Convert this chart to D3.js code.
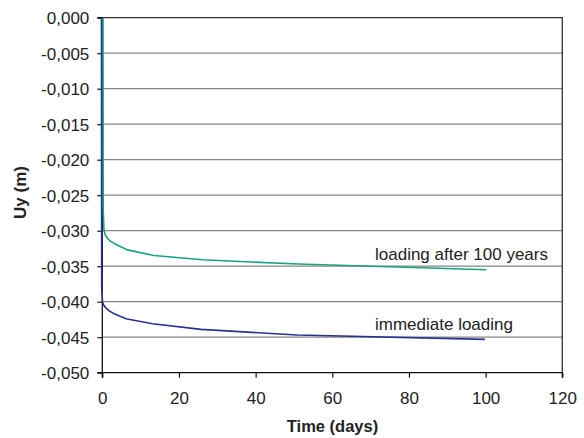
<!DOCTYPE html>
<html><head><meta charset="utf-8">
<script src="https://cdn.jsdelivr.net/npm/d3@7/dist/d3.min.js"></script>
<style>body{margin:0;background:#fff;} text{font-family:"Liberation Sans",Arial,sans-serif;}</style>
</head><body>
<svg id="c" width="584" height="438"></svg>
<script>
const time = [0, 0.05, 0.26, 0.6, 1.2, 2, 3.3, 6.4, 13.3, 26, 51, 100];
const afterLoading = [0, -0.0270, -0.0299, -0.0306, -0.0311, -0.0315, -0.0319, -0.0327, -0.0335, -0.0341, -0.0347, -0.0355];
const immediateLoading = [0, -0.0380, -0.0400, -0.0405, -0.0409, -0.0413, -0.0417, -0.0424, -0.0431, -0.0439, -0.0447, -0.0453];
const xTicks = [0, 20, 40, 60, 80, 100, 120];
const yTicks = [0, -0.005, -0.010, -0.015, -0.020, -0.025, -0.030, -0.035, -0.040, -0.045, -0.050];
const seriesNames = ["loading after 100 years", "immediate loading"];

const svg = d3.select("#c");
const L = 102.3, R = 562.3, T = 17.7, B = 372.7;
const x = d3.scaleLinear().domain([0, 120]).range([L, R]);
const y = d3.scaleLinear().domain([0, -0.05]).range([T, B]);
const FS = 17;

// gridlines
svg.append("g").selectAll("line").data(yTicks.slice(1, -1)).join("line")
  .attr("x1", L).attr("x2", R).attr("y1", d => y(d)).attr("y2", d => y(d))
  .attr("stroke", "#858585").attr("stroke-width", 1.3);
// border top/right
svg.append("path").attr("d", `M${L},${T}H${R}V${B}`).attr("fill", "none")
  .attr("stroke", "#333").attr("stroke-width", 1.3);

const fmt = d => d3.format(".3f")(d).replace(".", ",").replace("−", "-");
const yAxis = svg.append("g").attr("transform", `translate(${L},0)`)
  .call(d3.axisLeft(y).tickValues(yTicks).tickSize(5).tickPadding(8).tickFormat(fmt));
const xAxis = svg.append("g").attr("transform", `translate(0,${B})`)
  .call(d3.axisBottom(x).tickValues(xTicks).tickSize(5).tickPadding(10).tickFormat(d3.format("d")));
[yAxis, xAxis].forEach(a => {
  a.select(".domain").attr("stroke", "#111").attr("stroke-width", 1.3);
  a.selectAll(".tick line").attr("stroke", "#111").attr("stroke-width", 1.2);
  a.selectAll("text").attr("font-size", FS).attr("fill", "#222")
   .style("font-family", "'Liberation Sans', Arial, sans-serif");
});
yAxis.selectAll("text").attr("dy", "0.35em");
xAxis.selectAll("text").attr("dy", null).attr("y", 31.5);
yAxis.select(".domain").attr("d", `M-5,${T}H0V${B}H-5`);
xAxis.select(".domain").attr("d", `M${L},5V0H${R}V5`);

const line = d3.line().x(d => x(d[0])).y(d => y(d[1]));
svg.append("path").datum(time.map((t, i) => [t, immediateLoading[i]]))
  .attr("d", line).attr("fill", "none").attr("stroke", "#2a3192").attr("stroke-width", 1.6)
  .attr("transform", "translate(-0.8,0)");
svg.append("path").datum(time.map((t, i) => [t, afterLoading[i]]))
  .attr("d", line).attr("fill", "none").attr("stroke", "#1aa383").attr("stroke-width", 1.6)
  .attr("transform", "translate(0.7,0)");

svg.append("text").attr("x", 375).attr("y", 259.5).attr("font-size", 17).attr("fill", "#222").text(seriesNames[0]);
svg.append("text").attr("x", 375).attr("y", 330).attr("font-size", 17).attr("fill", "#222").text(seriesNames[1]);

svg.append("text").attr("x", 332.5).attr("y", 432).attr("text-anchor", "middle")
  .attr("font-size", 16.5).attr("font-weight", "bold").attr("fill", "#222").text("Time (days)");
svg.append("text").attr("transform", "translate(26,192.5) rotate(-90)").attr("text-anchor", "middle")
  .attr("font-size", 17).attr("font-weight", "bold").attr("fill", "#222").text("Uy (m)");
</script>
</body></html>
